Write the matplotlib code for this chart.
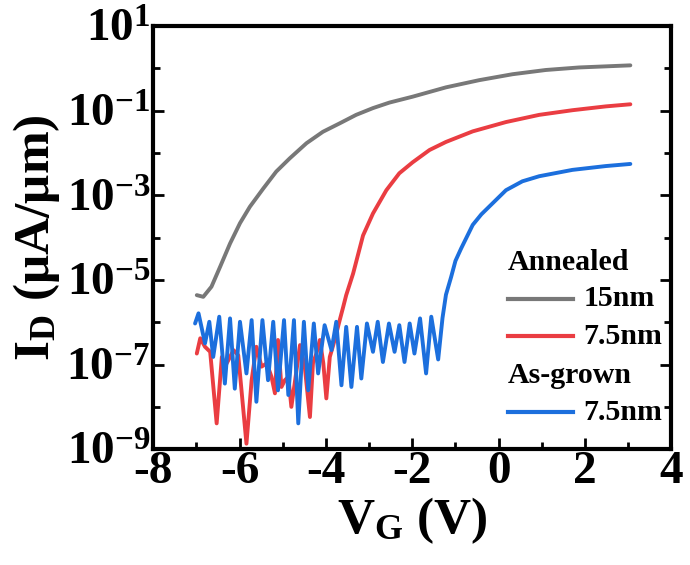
import numpy as np
import matplotlib
matplotlib.use("Agg")
import matplotlib.pyplot as plt
from matplotlib.ticker import MultipleLocator, FixedLocator, FixedFormatter

# gate voltage (V) and log10 of drain current (uA/um)
vg_15_ann = [-6.99, -6.84, -6.65, -6.45, -6.22, -5.99, -5.76, -5.45, -5.15, -4.84,
             -4.45, -4.07, -3.68, -3.30, -2.91, -2.53, -1.99, -1.22, -0.45, 0.32,
             1.09, 1.86, 3.05]
log_15_ann = [-5.36, -5.40, -5.16, -4.69, -4.14, -3.66, -3.27, -2.84, -2.44, -2.13,
              -1.77, -1.50, -1.30, -1.10, -0.94, -0.81, -0.67, -0.45, -0.28, -0.14,
              -0.04, 0.02, 0.07]

vg_75_ann = [-6.99, -6.91, -6.80, -6.68, -6.53, -6.41, -6.34, -6.26, -6.14, -6.03,
             -5.84, -5.72, -5.61, -5.49, -5.37, -5.26, -5.18, -5.11, -5.03, -4.95,
             -4.87, -4.80, -4.68, -4.60, -4.49, -4.37, -4.30, -4.22, -4.14, -4.06,
             -3.99, -3.91, -3.83, -3.76, -3.68, -3.60, -3.53, -3.37, -3.14, -2.91,
             -2.60, -2.30, -1.99, -1.60, -1.22, -0.60, 0.17, 0.94, 1.71, 2.48, 3.05]
log_75_ann = [-6.74, -6.38, -6.58, -6.70, -8.39, -6.82, -7.05, -6.90, -6.66, -6.78,
              -8.87, -7.37, -6.58, -7.05, -6.97, -7.29, -7.68, -6.42, -7.53, -7.37,
              -7.29, -8.00, -7.13, -6.54, -7.05, -8.24, -6.97, -6.74, -6.42, -6.97,
              -7.80, -6.82, -6.54, -6.27, -5.95, -5.64, -5.36, -4.85, -3.95, -3.43,
              -2.88, -2.48, -2.22, -1.93, -1.74, -1.49, -1.27, -1.10, -0.99, -0.90, -0.85]

vg_75_asg = [-7.03, -6.95, -6.80, -6.70, -6.61, -6.47, -6.34, -6.22, -6.11, -5.99,
             -5.84, -5.72, -5.61, -5.47, -5.34, -5.22, -5.11, -4.97, -4.87, -4.74,
             -4.64, -4.51, -4.41, -4.28, -4.18, -4.03, -3.87, -3.76, -3.64, -3.53,
             -3.41, -3.28, -3.18, -3.05, -2.91, -2.80, -2.68, -2.54, -2.41, -2.30,
             -2.18, -2.06, -1.95, -1.82, -1.68, -1.56, -1.40, -1.30, -1.22, -1.10,
             -1.00, -0.87, -0.60, -0.40, -0.18, 0.17, 0.55, 0.94, 1.71, 2.48, 3.05]
log_75_asg = [-6.03, -5.79, -6.50, -5.99, -6.82, -5.87, -7.45, -5.91, -7.57, -5.99,
              -7.21, -5.95, -7.88, -5.95, -7.37, -5.99, -7.61, -5.95, -7.72, -5.95,
              -8.39, -5.99, -7.61, -6.03, -7.21, -6.07, -6.66, -5.99, -7.49, -6.11,
              -7.53, -6.11, -7.33, -6.03, -6.70, -5.99, -6.94, -6.03, -6.70, -6.07,
              -6.94, -6.03, -6.74, -5.91, -7.21, -5.87, -6.88, -5.90, -5.35, -4.93,
              -4.55, -4.26, -3.70, -3.45, -3.23, -2.88, -2.67, -2.55, -2.40, -2.31, -2.26]

c_gray = "#787878"
c_red = "#ea3d42"
c_blue = "#1c6fdd"

plt.rcParams.update({
    "font.family": "Liberation Serif",
    "font.weight": "bold",
    "axes.labelweight": "bold",
    "mathtext.fontset": "custom",
    "mathtext.rm": "Liberation Serif:bold",
    "mathtext.bf": "Liberation Serif:bold",
    "mathtext.it": "Liberation Serif:bold",
    "axes.unicode_minus": False,
})

fig = plt.figure(figsize=(6.9, 5.65), dpi=100)
ax = fig.add_axes([0.222, 0.205, 0.751, 0.749])

kw = dict(lw=2.8, solid_joinstyle="round", solid_capstyle="round")
ax.semilogy(vg_15_ann, 10.0 ** np.array(log_15_ann), color=c_gray, **kw)
ax.semilogy(vg_75_ann, 10.0 ** np.array(log_75_ann), color=c_red, **kw)
ax.semilogy(vg_75_asg, 10.0 ** np.array(log_75_asg), color=c_blue, **kw)

ax.set_xlim(-8, 4)
ax.set_ylim(1e-9, 1e1)
ax.xaxis.set_major_locator(MultipleLocator(2))
ax.xaxis.set_minor_locator(MultipleLocator(1))

exps = [1, -1, -3, -5, -7, -9]
ax.yaxis.set_major_locator(FixedLocator([10.0 ** e for e in exps]))
ax.yaxis.set_major_formatter(FixedFormatter([r"$\mathbf{10^{%d}}$" % e for e in exps]))
ax.yaxis.set_minor_locator(FixedLocator([10.0 ** e for e in [0, -2, -4, -6, -8]]))
ax.yaxis.set_minor_formatter(FixedFormatter([""] * 5))

ax.tick_params(which="both", direction="in", right=True, top=False, width=2,
               labelsize=34)
ax.tick_params(which="major", length=8)
ax.tick_params(which="minor", length=5)
ax.tick_params(axis="x", which="major", pad=1)
ax.tick_params(axis="y", which="major", pad=2)
for s in ax.spines.values():
    s.set_linewidth(3)

ax.set_xlabel(r"$\mathbf{V_G}$ (V)", fontsize=37, labelpad=2)
ax.set_ylabel(r"$\mathbf{I_D}$ (μA/μm)", fontsize=37, labelpad=3)

tr = ax.transAxes
ax.text(0.685, 0.442, "Annealed", transform=tr, fontsize=21.5, va="center", ha="left")
ax.text(0.685, 0.175, "As-grown", transform=tr, fontsize=21.5, va="center", ha="left")
for lab, col, yy in [("15nm", c_gray, 0.355), ("7.5nm", c_red, 0.267), ("7.5nm", c_blue, 0.087)]:
    ax.plot([0.685, 0.811], [yy, yy], transform=tr, color=col, lw=3)
    ax.text(0.830, yy, lab, transform=tr, fontsize=21.5, va="center", ha="left")

fig.savefig("out.png", dpi=100)
